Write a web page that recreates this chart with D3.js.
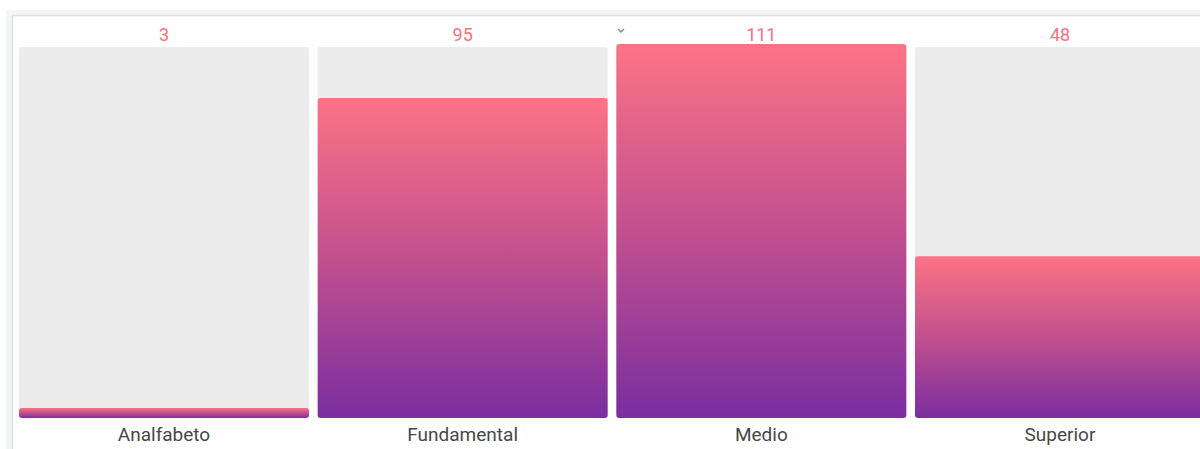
<!DOCTYPE html>
<html>
<head>
<meta charset="utf-8">
<script src="https://d3js.org/d3.v7.min.js"></script>
<style>
  body { margin: 0; padding: 0; background: #fff; overflow: hidden; }
  text { font-family: Roboto, "Noto Sans", sans-serif; }
</style>
</head>
<body>
<script>
  // chart data
  var categories = ["Analfabeto", "Fundamental", "Medio", "Superior"];
  var values = [3, 95, 111, 48];

  var w = 1200, h = 449;
  var svg = d3.select("body").append("svg")
      .attr("width", w)
      .attr("height", h);

  // card frame
  svg.append("rect")
      .attr("x", 6).attr("y", 10)
      .attr("width", w).attr("height", h)
      .attr("fill", "#f4f5f7");
  svg.append("rect")
      .attr("x", 12.5).attr("y", 15.5)
      .attr("width", w).attr("height", h)
      .attr("fill", "#fff")
      .attr("stroke", "#dfe0e3")
      .attr("stroke-width", 1.5);

  var defs = svg.append("defs");
  var grad = defs.append("linearGradient")
      .attr("id", "barGrad")
      .attr("x1", 0).attr("y1", 0)
      .attr("x2", 0).attr("y2", 1);
  grad.append("stop").attr("offset", "0%").attr("stop-color", "#fc7385");
  grad.append("stop").attr("offset", "50%").attr("stop-color", "#c2508f");
  grad.append("stop").attr("offset", "100%").attr("stop-color", "#7a2ea0");

  var x = d3.scaleBand()
      .domain(categories)
      .range([19, 1205])
      .paddingInner(0.029)
      .paddingOuter(0);

  var y = d3.scaleLinear()
      .domain([0, d3.max(values)])
      .range([418, 44]);

  // grey track behind each bar
  svg.selectAll("rect.track")
      .data(categories)
      .enter().append("rect")
      .attr("class", "track")
      .attr("x", function(d) { return x(d); })
      .attr("y", 47)
      .attr("width", x.bandwidth())
      .attr("height", 418 - 47)
      .attr("rx", 3)
      .attr("fill", "#ececec");

  svg.selectAll("rect.bar")
      .data(values)
      .enter().append("rect")
      .attr("class", "bar")
      .attr("x", function(d, i) { return x(categories[i]); })
      .attr("y", function(d) { return y(d); })
      .attr("width", x.bandwidth())
      .attr("height", function(d) { return y(0) - y(d); })
      .attr("rx", 3)
      .attr("fill", "url(#barGrad)");

  // value labels on top
  svg.selectAll("text.val")
      .data(values)
      .enter().append("text")
      .attr("class", "val")
      .attr("x", function(d, i) { return x(categories[i]) + x.bandwidth() / 2; })
      .attr("y", 41)
      .attr("text-anchor", "middle")
      .attr("font-size", 18)
      .attr("fill", "#f7717f")
      .text(function(d) { return d; });

  // category labels
  svg.selectAll("text.cat")
      .data(categories)
      .enter().append("text")
      .attr("class", "cat")
      .attr("x", function(d) { return x(d) + x.bandwidth() / 2; })
      .attr("y", 441)
      .attr("text-anchor", "middle")
      .attr("font-size", 19)
      .attr("fill", "#474747")
      .text(function(d) { return d; });

  // little chevron near the middle
  svg.append("path")
      .attr("d", "M618,29 L621,32 L624,29")
      .attr("fill", "none")
      .attr("stroke", "#888")
      .attr("stroke-width", 1.5);
</script>
</body>
</html>
